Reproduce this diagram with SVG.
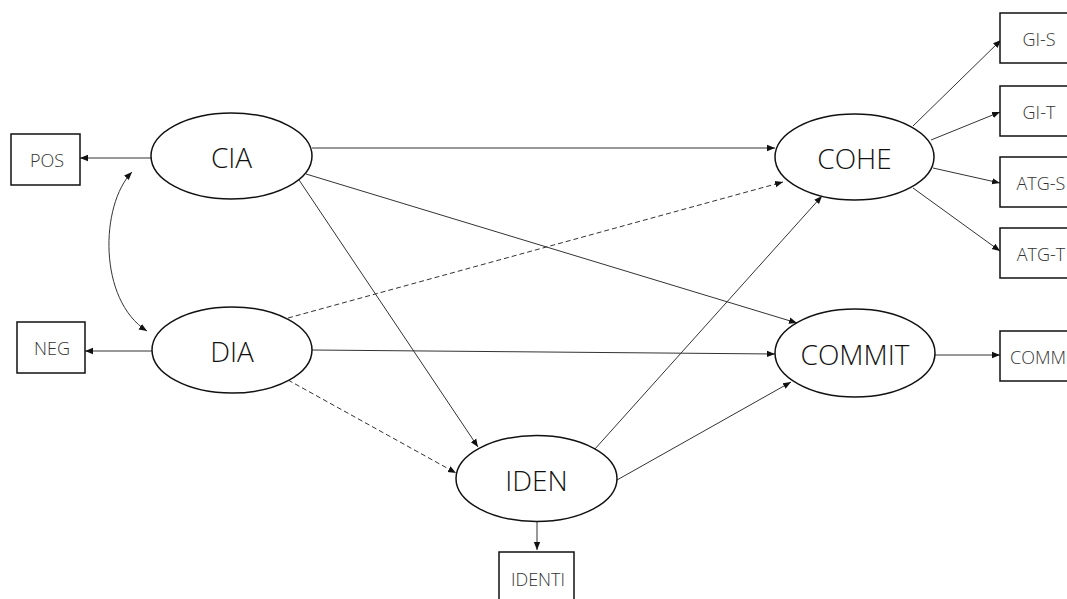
<svg xmlns="http://www.w3.org/2000/svg" width="1067" height="599" viewBox="0 0 1067 599">
<style>
.n ellipse{fill:#fff;stroke:#111;stroke-width:1.5}
.b rect{fill:#fff;stroke:#111;stroke-width:1.5}
.n text{font-family:"Open Sans","Liberation Sans",sans-serif;font-size:28px;font-weight:300;fill:#111;text-anchor:middle}
.b text{font-family:"Open Sans","Liberation Sans",sans-serif;font-size:18px;font-weight:300;fill:#333;text-anchor:middle}
#edges path{fill:none;stroke:#333;stroke-width:1;marker-end:url(#ah)}
#edges .d{stroke-dasharray:5,3}
</style>
<defs>
<marker id="ah" viewBox="0 0 10 10" refX="10" refY="5" markerWidth="8" markerHeight="8" markerUnits="userSpaceOnUse" orient="auto-start-reverse">
<path d="M0,1 L10,5 L0,9 z" fill="#111"/>
</marker>
</defs>
<rect width="1067" height="599" fill="#fff"/>
<g id="edges">
<path d="M151,158 L80,158"/>
<path d="M152,351 L85,351"/>
<path d="M132,172 C100,205 98,300 147,331" style="marker-start:url(#ah)"/>
<path d="M312,148 L775,148"/>
<path d="M306,174 L797,323"/>
<path d="M289,165 L478,447"/>
<path class="d" d="M288,318 L783,182"/>
<path d="M312,350 L775,354"/>
<path class="d" d="M288,380 L456,473"/>
<path d="M594,450 L822,196"/>
<path d="M617,480 L791,382"/>
<path d="M913,126 L1001,40"/>
<path d="M931,140 L1000,112"/>
<path d="M933,168 L1000,183"/>
<path d="M913,188 L1000,251"/>
<path d="M935,355 L1000,355"/>
<path d="M537,521 L537,550"/>
</g>
<g id="CIA" class="n"><ellipse cx="231.5" cy="156" rx="80.5" ry="43"/><text x="231.5" y="168">CIA</text></g>
<g id="DIA" class="n"><ellipse cx="232" cy="350" rx="80" ry="43"/><text x="232" y="362">DIA</text></g>
<g id="COHE" class="n"><ellipse cx="854.5" cy="157" rx="79.5" ry="43"/><text x="854.5" y="169">COHE</text></g>
<g id="COMMIT" class="n"><ellipse cx="855" cy="353" rx="80" ry="44"/><text x="855" y="365">COMMIT</text></g>
<g id="IDEN" class="n"><ellipse cx="536.5" cy="478.5" rx="80.5" ry="43"/><text x="536.5" y="490.5">IDEN</text></g>
<g id="POS" class="b"><rect x="11" y="134" width="69" height="51"/><text x="47" y="167">POS</text></g>
<g id="NEG" class="b"><rect x="17" y="322" width="68" height="51"/><text x="52" y="355">NEG</text></g>
<g id="GI-S" class="b"><rect x="1000" y="13" width="80" height="50"/><text x="1039" y="46">GI-S</text></g>
<g id="GI-T" class="b"><rect x="1000" y="86" width="80" height="50"/><text x="1039" y="119">GI-T</text></g>
<g id="ATG-S" class="b"><rect x="1000" y="157" width="80" height="50"/><text x="1041" y="190">ATG-S</text></g>
<g id="ATG-T" class="b"><rect x="1000" y="228" width="80" height="50"/><text x="1041" y="261">ATG-T</text></g>
<g id="COMM" class="b"><rect x="1000" y="331" width="80" height="50"/><text x="1010" y="364" style="text-anchor:start">COMM</text></g>
<g id="IDENTI" class="b"><rect x="499" y="552" width="75" height="60"/><text x="538" y="586">IDENTI</text></g>
</svg>
